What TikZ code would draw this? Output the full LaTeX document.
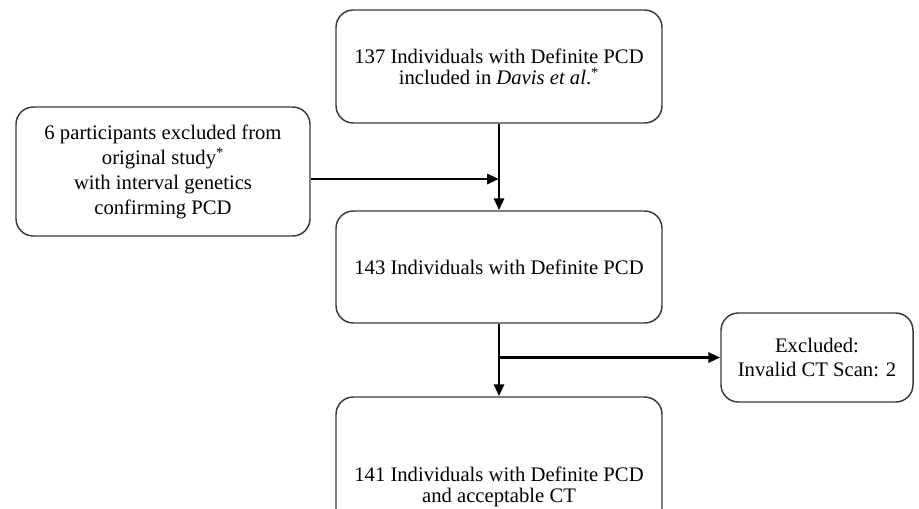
\documentclass[tikz,border=0pt]{standalone}
\usepackage{fontspec}
\setmainfont{Liberation Serif}
\usepackage{tikz}
\usetikzlibrary{arrows.meta}
\definecolor{boxline}{HTML}{3A3A3A}

\begin{document}
\begin{tikzpicture}[x=0.75pt,y=-0.75pt,
    every node/.style={draw=boxline,line width=1.1pt,rounded corners=13pt,
      align=center,inner sep=0pt,font=\fontsize{15.5}{15.75}\selectfont},
    flow/.style={line width=2.2pt,-{Triangle[length=9pt,width=7.5pt]}}]

    \clip (0,0) rectangle (919,508);

    % Place the boxes of the flow
    \node[minimum width=244.5pt,minimum height=84.75pt] (davis) at (499,66.5)
      {137 Individuals with Definite PCD\\ included in \textit{Davis et al}.\textsuperscript{*}};
    \node[minimum width=220.5pt,minimum height=96.75pt,
      font=\fontsize{15.5}{18.75}\selectfont] (extra) at (163,171.5)
      {6 participants excluded from\\ original study\textsuperscript{*}\\ with interval genetics\\ confirming PCD};
    \node[minimum width=244.5pt,minimum height=84pt] (defin) at (499,267)
      {143 Individuals with Definite PCD};
    \node[minimum width=144pt,minimum height=66.75pt,
      font=\fontsize{15.5}{18}\selectfont] (excl) at (817,357.5)
      {Excluded:\\ Invalid CT Scan: 2};
    \node[minimum width=244.5pt,minimum height=135pt] (final) at (499,487)
      {141 Individuals with Definite PCD\\ and acceptable CT};

    % Arrows, with the side branches
    \coordinate (join) at (499,179);
    \draw[flow] (davis.south) -- (defin.north);
    \draw[flow] (extra.east |- join) -- (join);
    \draw[flow] (defin.south) -- (final.north);
    \draw[flow] (defin.south |- excl.west) -- (excl.west);

  \end{tikzpicture}
\end{document}
